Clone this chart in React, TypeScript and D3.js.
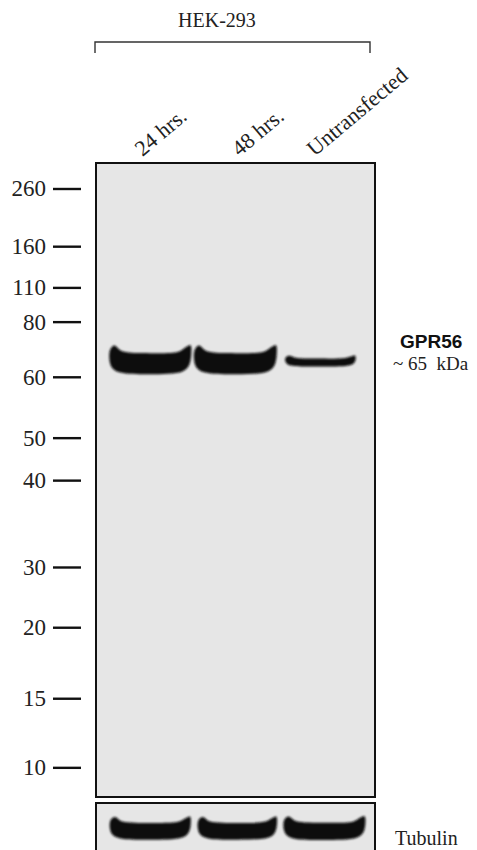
import React from "react";
import * as d3 from "d3";

// ---- data ----
const lanes = ["24 hrs.", "48 hrs.", "Untransfected"];
const markerKDa = [260, 160, 110, 80, 60, 50, 40, 30, 20, 15, 10];
// relative migration (fraction of blot height) of each ladder band
const markerRf = [0.041, 0.132, 0.197, 0.251, 0.338, 0.434, 0.501, 0.638, 0.733, 0.845, 0.954];
const targetName = "GPR56";
const targetKDa = 65;
const targetSignal = [1.0, 1.0, 0.38];
const targetWidth = [0.94, 0.95, 0.81];
const loadingName = "Tubulin";
const loadingSignal = [0.8, 0.8, 0.82];
const loadingWidth = [0.93, 0.91, 0.94];
const groupLabel = "HEK-293";

const W = 477;
const H = 850;
const box = { left: 96, right: 375, top: 163, bottom: 797 };
const lbox = { top: 803, bottom: 856 };

const xLane = d3.scaleBand<string>().domain(lanes).range([box.left, box.right]).paddingInner(0).paddingOuter(0.14);
const yRf = d3.scaleLinear().domain([0, 1]).range([box.top, box.bottom]);
const kdaToRf = d3.scaleLog().domain(markerKDa).range(markerRf);
const thick = d3.scaleLinear().domain([0, 1]).range([0, 21]);

// unit band shape (smile-shaped western band)
const shape: [number, number][] = [
  [-1.0, -0.62], [-0.9, -0.78], [-0.72, -0.52], [0, -0.42], [0.72, -0.5], [0.9, -0.72], [1.0, -0.8],
  [1.02, -0.35], [0.96, 0.18], [0.8, 0.45], [0, 0.58], [-0.8, 0.48], [-0.97, 0.25], [-1.03, -0.2],
];
const closed = d3.line().curve(d3.curveCatmullRomClosed.alpha(0.5));

function bandPath(cx: number, cy: number, w: number, th: number) {
  return closed(shape.map(([u, v]) => [cx + (u * w) / 2, cy + v * th]) as [number, number][]) || "";
}

export default function App() {
  const serif = "'Liberation Serif', 'Times New Roman', serif";
  const sans = "'Liberation Sans', Arial, sans-serif";
  const step = xLane.step();
  const cyTarget = yRf(kdaToRf(targetKDa));
  const cyLoad = (lbox.top + 851) / 2 + 3;
  const labelOffsets = [-8, 4, -6];
  return (
    <svg width={W} height={H} style={{ position: "absolute", left: 0, top: 0, background: "#fff" }}>
      <defs>
        <filter id="soft" x="-10%" y="-50%" width="120%" height="200%">
          <feGaussianBlur stdDeviation="1.1" />
        </filter>
        <clipPath id="clipMain">
          <rect x={box.left} y={box.top} width={box.right - box.left} height={box.bottom - box.top} />
        </clipPath>
      </defs>
      {/* group label and bracket */}
      <text x={217} y={27} textAnchor="middle" fontFamily={serif} fontSize={20} fill="#222">
        {groupLabel}
      </text>
      <path d={`M${box.left - 1},53V42H370V53`} fill="none" stroke="#333" strokeWidth={1.4} />
      {/* lane labels */}
      {lanes.map((l, i) => {
        const x = (xLane(l) as number) + step / 2 + labelOffsets[i];
        return (
          <text key={l} x={x} y={157} transform={`rotate(-40 ${x} 157)`} fontFamily={serif} fontSize={22} fill="#222">
            {l}
          </text>
        );
      })}
      {/* main blot */}
      <rect x={box.left} y={box.top} width={box.right - box.left} height={box.bottom - box.top} fill="#e6e6e6" />
      <g clipPath="url(#clipMain)" filter="url(#soft)">
        {lanes.map((l, i) => (
          <path
            key={l}
            d={bandPath((xLane(l) as number) + step / 2, cyTarget, step * targetWidth[i], thick(targetSignal[i]))}
            fill="#0d0d0d"
          />
        ))}
      </g>
      <rect x={box.left} y={box.top} width={box.right - box.left} height={box.bottom - box.top} fill="none" stroke="#111" strokeWidth={2} />
      {/* marker ladder */}
      {markerKDa.map((m, i) => {
        const y = yRf(markerRf[i]);
        return (
          <g key={m}>
            <line x1={53} x2={81} y1={y} y2={y} stroke="#111" strokeWidth={2.4} />
            <text x={46} y={y + 7.5} textAnchor="end" fontFamily={serif} fontSize={23} fill="#222">
              {m}
            </text>
          </g>
        );
      })}
      {/* target label */}
      <text x={400} y={348} fontFamily={sans} fontWeight="bold" fontSize={19} fill="#111">
        {targetName}
      </text>
      <text x={393} y={370} fontFamily={serif} fontSize={19} fill="#222" style={{ whiteSpace: "pre" }}>
        {`~ ${targetKDa}  kDa`}
      </text>
      {/* loading control */}
      <rect x={box.left} y={lbox.top} width={box.right - box.left} height={lbox.bottom - lbox.top} fill="#e6e6e6" />
      <g filter="url(#soft)">
        {lanes.map((l, i) => (
          <path
            key={l}
            d={bandPath((xLane(l) as number) + step / 2 + i * 2, cyLoad, step * loadingWidth[i], thick(loadingSignal[i]))}
            fill="#0d0d0d"
          />
        ))}
      </g>
      <rect x={box.left} y={lbox.top} width={box.right - box.left} height={lbox.bottom - lbox.top} fill="none" stroke="#111" strokeWidth={2} />
      <text x={395} y={845} fontFamily={serif} fontSize={20} fill="#222">
        {loadingName}
      </text>
    </svg>
  );
}
